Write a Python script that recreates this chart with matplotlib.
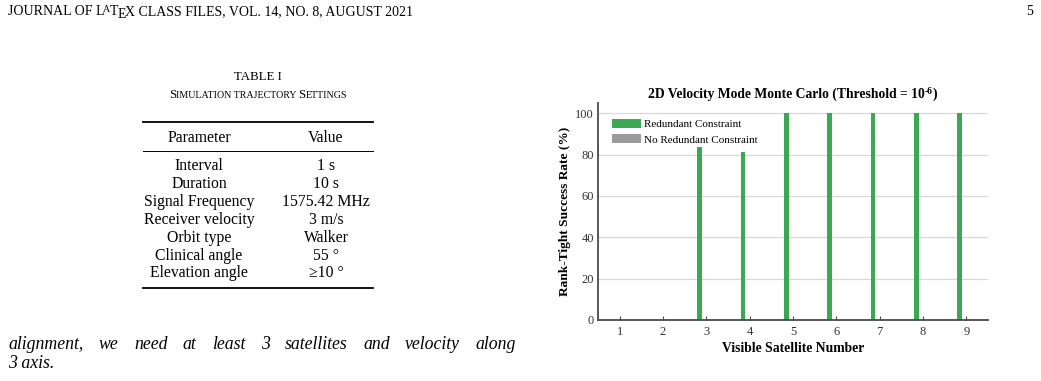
import matplotlib
matplotlib.use("Agg")
import matplotlib.pyplot as plt
import numpy as np

# ---------------- data ----------------
satellites = [1, 2, 3, 4, 5, 6, 7, 8, 9]
redundant = [0, 0, 83.6, 81.2, 100, 100, 100, 100, 100]
no_redundant = [0, 0, 0, 0, 0, 0, 0, 0, 0]
series_labels = ["Redundant Constraint", "No Redundant Constraint"]
y_ticks = [0, 20, 40, 60, 80, 100]

table_params = ["Interval", "Duration", "Signal Frequency", "Receiver velocity",
                "Orbit type", "Clinical angle", "Elevation angle"]
table_values = ["1 s", "10 s", "1575.42 MHz", "3 m/s", "Walker", "55 °", "≥10 °"]

W, H = 1041, 381
SERIF = "Liberation Serif"
plt.rcParams["font.family"] = [SERIF, "DejaVu Serif"]

fig = plt.figure(figsize=(W / 100, H / 100), dpi=100)
fig.patch.set_facecolor("white")
renderer = fig.canvas.get_renderer()


def fx(px):
    return px / W


def fy(py):
    return 1 - py / H


def text_width(s, size, **kw):
    t = fig.text(0, 0, s, fontsize=size, **kw)
    w = t.get_window_extent(renderer).width
    t.remove()
    return w


def pieces(x, y, parts, ha="left"):
    """parts: list of (text, size, dy_px, dx_px_before, kwargs)"""
    widths = [text_width(p[0], p[1], **p[4]) for p in parts]
    total = sum(widths) + sum(p[3] for p in parts)
    if ha == "center":
        x = x - total / 2
    cx = x
    for (s, size, dy, dx, kw), w in zip(parts, widths):
        cx += dx
        fig.text(fx(cx), fy(y - dy), s, fontsize=size, va="baseline", ha="left", **kw)
        cx += w


# ---------------- page header ----------------
hs = 10.0
em = hs * 100 / 72
pieces(8, 15, [
    ("JOURNAL OF L", hs, 0, 0, {}),
    ("A", hs * 0.72, 2.6, -0.12 * em, {}),
    ("T", hs, 0, -0.04 * em, {}),
    ("E", hs, -2.6, -0.06 * em, {}),
    ("X CLASS FILES, VOL. 14, NO. 8, AUGUST 2021", hs, 0, -0.04 * em, {}),
])
fig.text(fx(1033), fy(15), "5", fontsize=hs, ha="right", va="baseline")

# ---------------- table ----------------
ts = 11.3
cx_tab = 258
fig.text(fx(cx_tab), fy(80), "TABLE I", fontsize=ts * 0.82, ha="center", va="baseline")
big, small = ts * 0.82, ts * 0.64
pieces(cx_tab, 98, [
    ("S", big, 0, 0, {}), ("IMULATION TRAJECTORY ", small, 0, 0, {}),
    ("S", big, 0, 0, {}), ("ETTINGS", small, 0, 0, {}),
], ha="center")

x0, x1 = 143, 373
for yy, lw in [(122, 1.3), (151, 0.7), (288, 1.3)]:
    fig.add_artist(plt.Line2D([fx(x0), fx(x1)], [fy(yy), fy(yy)], color="black", lw=lw))
col1, col2 = 199, 326
fig.text(fx(col1), fy(142), "Parameter", fontsize=ts, ha="center", va="baseline")
fig.text(fx(col2), fy(142), "Value", fontsize=ts, ha="center", va="baseline")
row_y0, row_dy = 170, 17.9
for i, (p, v) in enumerate(zip(table_params, table_values)):
    yy = row_y0 + i * row_dy
    fig.text(fx(col1), fy(yy), p, fontsize=ts, ha="center", va="baseline")
    fig.text(fx(col2), fy(yy), v, fontsize=ts, ha="center", va="baseline")

# ---------------- italic paragraph ----------------
ps = 12.8
line1 = "alignment, we need at least 3 satellites and velocity along".split()
lx0, lx1 = 8, 516
ws = [text_width(w, ps, style="italic") for w in line1]
gap = (lx1 - lx0 - sum(ws)) / (len(line1) - 1)
cx = lx0
for w, wd in zip(line1, ws):
    fig.text(fx(cx), fy(349), w, fontsize=ps, style="italic", va="baseline")
    cx += wd + gap
fig.text(fx(8), fy(368), "3 axis.", fontsize=ps, style="italic", va="baseline")

# ---------------- chart ----------------
ax_l, ax_r, ax_t, ax_b = 598, 988, 103, 320
ax = fig.add_axes([fx(ax_l), fy(ax_b), (ax_r - ax_l) / W, (ax_b - ax_t) / H])
x = np.array(satellites)
green = "#3DA854"
gray = "#9A9A9A"
bw = 0.11
ax.bar(x - 0.155, redundant, width=bw, color=green, label=series_labels[0], zorder=3)
ax.bar(x + 0.155, no_redundant, width=bw, color=gray, label=series_labels[1], zorder=3)

ax.set_xlim(0.5, 9.5)
ax.set_ylim(0, 105)
ax.set_xticks(satellites)
ax.set_yticks(y_ticks)
ax.yaxis.grid(True, color="#D8D8D8", lw=0.9, zorder=0)
ax.set_axisbelow(True)
for s in ["top", "right"]:
    ax.spines[s].set_visible(False)
axc = "#4A4A4A"
for s in ["left", "bottom"]:
    ax.spines[s].set_color(axc)
    ax.spines[s].set_linewidth(1.3)
    ax.spines[s].set_zorder(4)
ax.tick_params(axis="both", direction="in", length=3, width=0.8, colors=axc,
               labelsize=9, labelcolor="#333333")
ax.tick_params(axis="x", pad=4.5)
ax.tick_params(axis="y", pad=3, length=0)

# title with a text superscript (hyphen, as in the reference)
ts_title = 9.8
pieces((ax_l + ax_r) / 2, 98, [
    ("2D Velocity Mode Monte Carlo (Threshold = 10", ts_title, 0, 0, {"fontweight": "bold"}),
    ("-6", ts_title * 0.7, 4.5, 0, {"fontweight": "bold"}),
    (")", ts_title, 0, 0, {"fontweight": "bold"}),
], ha="center")

ax.set_xlabel("Visible Satellite Number", fontsize=9.8, fontweight="bold", labelpad=3)
ax.set_ylabel("Rank-Tight Success Rate (%)", fontsize=9.6, fontweight="bold", labelpad=3)

leg = ax.legend(loc="upper left", bbox_to_anchor=(0.025, 0.945), frameon=False,
                fontsize=8, handlelength=2.6, handleheight=0.8, labelspacing=0.45,
                handletextpad=0.3, borderaxespad=0)

fig.savefig("out.png", dpi=100, facecolor="white")
